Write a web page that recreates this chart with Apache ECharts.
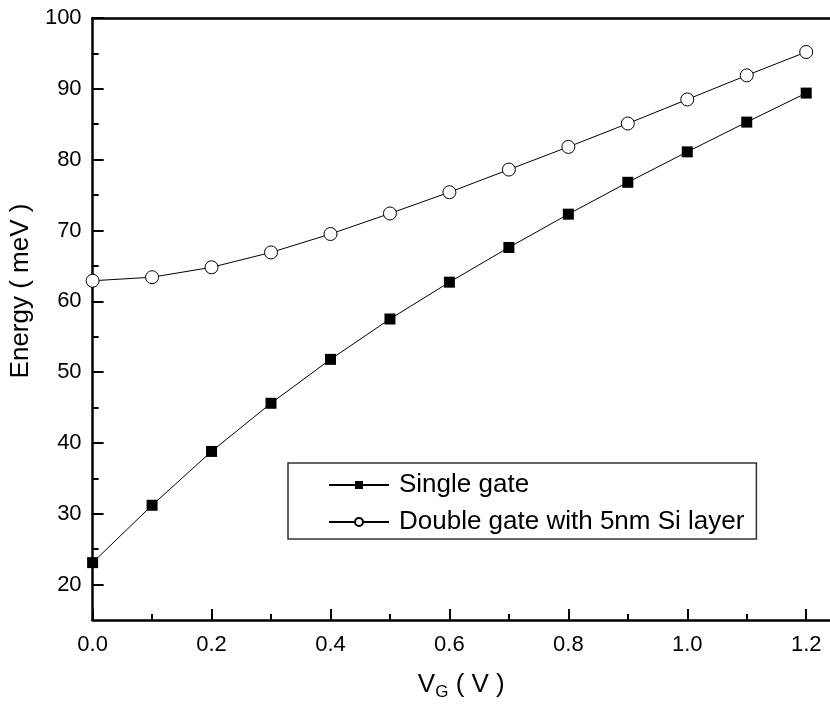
<!DOCTYPE html>
<html>
<head>
<meta charset="utf-8">
<script src="https://cdn.jsdelivr.net/npm/echarts@6/dist/echarts.min.js"></script>
<style>
html,body{margin:0;padding:0;background:#fff;}
#chart{width:830px;height:716px;}
</style>
</head>
<body>
<div id="chart"></div>
<script>
const vg = [0.0, 0.1, 0.2, 0.3, 0.4, 0.5, 0.6, 0.7, 0.8, 0.9, 1.0, 1.1, 1.2];
const singleGate = [23.1, 31.2, 38.8, 45.6, 51.8, 57.5, 62.7, 67.6, 72.3, 76.8, 81.1, 85.3, 89.4];
const doubleGate = [62.9, 63.4, 64.8, 66.9, 69.5, 72.4, 75.4, 78.6, 81.8, 85.1, 88.5, 91.9, 95.2];
const xMajorTicks = [0, 0.2, 0.4, 0.6, 0.8, 1.0, 1.2];
const xMinorTicks = [0.1, 0.3, 0.5, 0.7, 0.9, 1.1];
const yMajorTicks = [20, 30, 40, 50, 60, 70, 80, 90, 100];
const yMinorTicks = [25, 35, 45, 55, 65, 75, 85, 95];
const seriesNames = ['Single gate', 'Double gate with 5nm Si layer'];

const FONT = 'Liberation Sans, Arial, sans-serif';
const chart = echarts.init(document.getElementById('chart'), null, {renderer: 'canvas'});

const pairs = arr => vg.map((x, i) => [x, arr[i]]);

chart.setOption({
  animation: false,
  backgroundColor: '#fff',
  grid: {left: 89, right: 0, top: 18, bottom: 96, containLabel: false},
  legend: {
    orient: 'vertical',
    left: 288,
    top: 463,
    data: seriesNames,
    itemWidth: 60,
    itemHeight: 10,
    itemGap: 11,
    padding: [9, 12, 4, 40],
    borderColor: '#333',
    borderWidth: 1.5,
    textStyle: {fontFamily: FONT, fontSize: 26, color: '#000', padding: [0, 0, 0, 5]}
  },
  xAxis: [
    {
      type: 'value', min: 0, max: 1.24, position: 'bottom',
      name: '{v|V}{s|G}{v| ( V )}',
      nameLocation: 'middle', nameGap: 48,
      nameTextStyle: {rich: {
        v: {fontFamily: FONT, fontSize: 26, color: '#000'},
        s: {fontFamily: FONT, fontSize: 17, color: '#000', verticalAlign: 'bottom', padding: [16, 0, 0, 0]}
      }},
      axisLine: {show: true, onZero: false, lineStyle: {color: '#000', width: 2.5}},
      axisTick: {show: true, inside: true, length: 11, customValues: xMajorTicks, lineStyle: {color: '#000', width: 2}},
      axisLabel: {customValues: xMajorTicks, formatter: v => v.toFixed(1), margin: 14,
                  fontFamily: FONT, fontSize: 22, color: '#000'},
      splitLine: {show: false}
    },
    {
      type: 'value', min: 0, max: 1.24, position: 'bottom',
      axisLine: {show: false, onZero: false},
      axisTick: {show: true, inside: true, length: 6, customValues: xMinorTicks, lineStyle: {color: '#000', width: 2}},
      axisLabel: {show: false},
      splitLine: {show: false}
    },
    {
      type: 'value', min: 0, max: 1.24, position: 'top',
      axisLine: {show: true, onZero: false, lineStyle: {color: '#000', width: 2.5}},
      axisTick: {show: false},
      axisLabel: {show: false},
      splitLine: {show: false}
    }
  ],
  yAxis: [
    {
      type: 'value', min: 15, max: 100, position: 'left',
      name: 'Energy ( meV )',
      nameLocation: 'middle', nameGap: 50, nameRotate: 90,
      nameTextStyle: {fontFamily: FONT, fontSize: 26, color: '#000', padding: [0, 0, 0, 56]},
      axisLine: {show: true, onZero: false, lineStyle: {color: '#000', width: 2.5}},
      axisTick: {show: true, inside: true, length: 11, customValues: yMajorTicks, lineStyle: {color: '#000', width: 2}},
      axisLabel: {customValues: yMajorTicks, margin: 11, fontFamily: FONT, fontSize: 22, color: '#000'},
      splitLine: {show: false}
    },
    {
      type: 'value', min: 15, max: 100, position: 'left',
      axisLine: {show: false, onZero: false},
      axisTick: {show: true, inside: true, length: 6, customValues: yMinorTicks, lineStyle: {color: '#000', width: 2}},
      axisLabel: {show: false},
      splitLine: {show: false}
    }
  ],
  series: [
    {
      name: seriesNames[0], type: 'line', data: pairs(singleGate),
      symbol: 'rect', symbolSize: 11, clip: false,
      lineStyle: {color: '#000', width: 1},
      itemStyle: {color: '#000', borderColor: '#000', borderWidth: 0}
    },
    {
      name: seriesNames[1], type: 'line', data: pairs(doubleGate),
      symbol: 'circle', symbolSize: 13, clip: false,
      lineStyle: {color: '#000', width: 1},
      itemStyle: {color: '#fff', borderColor: '#000', borderWidth: 1}
    }
  ]
});
</script>
</body>
</html>
